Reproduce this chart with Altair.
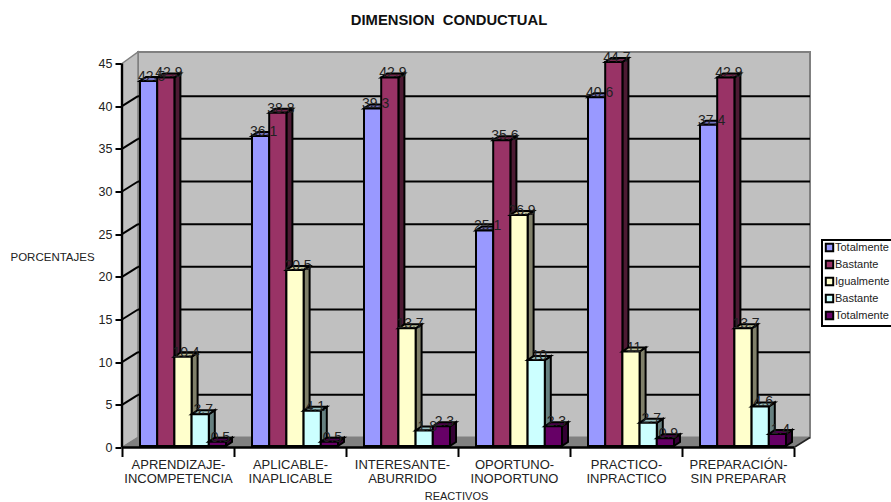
import altair as alt
import pandas as pd

# Survey percentages per item and response option
categories = [
    "APRENDIZAJE-|INCOMPETENCIA",
    "APLICABLE-|INAPLICABLE",
    "INTERESANTE-|ABURRIDO",
    "OPORTUNO-|INOPORTUNO",
    "PRACTICO-|INPRACTICO",
    "PREPARACIÓN-|SIN PREPARAR",
]
series_names = ["Totalmente", "Bastante", "Igualmente", "Bastante", "Totalmente"]
series_values = [
    [42.5, 36.1, 39.3, 25.1, 40.6, 37.4],
    [42.9, 38.8, 42.9, 35.6, 44.7, 42.9],
    [10.4, 20.5, 13.7, 26.9, 11.0, 13.7],
    [3.7, 4.1, 1.8, 10.0, 2.7, 4.6],
    [0.5, 0.5, 2.3, 2.3, 0.9, 1.4],
]
series_labels = [
    ["42.5", "36.1", "39.3", "25.1", "40.6", "37.4"],
    ["42.9", "38.8", "42.9", "35.6", "44.7", "42.9"],
    ["10.4", "20.5", "13.7", "26.9", "11", "13.7"],
    ["3.7", "4.1", "1.8", "10", "2.7", "4.6"],
    ["0.5", "0.5", "2.3", "2.3", "0.9", "1.4"],
]
front_colors = ["#9999FF", "#993366", "#FFFFCC", "#CCFFFF", "#660066"]
side_colors = ["#4D4D80", "#4D1A33", "#80806A", "#668080", "#330033"]
top_colors = ["#7373BF", "#73264D", "#BFBF99", "#99BFBF", "#4D004D"]
y_ticks = [0, 5, 10, 15, 20, 25, 30, 35, 40, 45]

FONT = "Liberation Sans"
INK = "#222222"

# Pixel layout of the plot frame
PLOT_W, PLOT_H = 688, 396
CAT_PX = 112.0            # width of one category on the front plane
UNIT_PX = 8.533           # axis pixels per percentage point
BAR_UNIT_PX = 8.59        # bars sit a little further back, hence a slightly larger unit
BAR_BASE_PX = 1.5         # bar foot above the lower plot edge

x_max = PLOT_W / CAT_PX
x_scale = alt.Scale(domain=[0, x_max], nice=False, zero=False)
y_frame = alt.Scale(domain=[0, PLOT_H / UNIT_PX], nice=False, zero=False)
y_bar = alt.Scale(
    domain=[-BAR_BASE_PX / BAR_UNIT_PX, (PLOT_H - BAR_BASE_PX) / BAR_UNIT_PX],
    nice=False, zero=False,
)

# Depth of the box and of each column, in data units
wall_dx = 16 / CAT_PX
wall_dy = 10 / UNIT_PX
wall_top = PLOT_H / UNIT_PX - 0.05
front_top = 45
bar_dx = 6 / CAT_PX
bar_dy = 4 / BAR_UNIT_PX
bar_gap = 18 / CAT_PX
bar_w = 17.2 / CAT_PX

n_cat = len(categories)
X = alt.X("x:Q", scale=x_scale, axis=None)
X2 = alt.X2("x2:Q")
YF = alt.Y("y:Q", scale=y_frame, axis=None)
YF2 = alt.Y2("y2:Q")
YB = alt.Y("y:Q", scale=y_bar, axis=None)
YB2 = alt.Y2("y2:Q")

# Back wall
back_wall = (
    alt.Chart(pd.DataFrame([{"x": wall_dx, "x2": n_cat + wall_dx, "y": wall_dy, "y2": wall_top}]))
    .mark_rect(fill="#C0C0C0", stroke="#808080", strokeWidth=2)
    .encode(x=X, x2=X2, y=YF, y2=YF2)
)

# Left wall
left_wall = (
    alt.Chart(pd.DataFrame([
        {"x": 0, "y": front_top, "y2": 0},
        {"x": wall_dx, "y": wall_top, "y2": wall_dy},
    ]))
    .mark_area(fill="#C0C0C0", stroke="#808080", strokeWidth=1.5)
    .encode(x=X, y=YF, y2=YF2)
)

# Floor
floor = (
    alt.Chart(pd.DataFrame([
        {"x": 0, "y": 0, "y2": 0},
        {"x": wall_dx, "y": wall_dy, "y2": 0},
        {"x": n_cat, "y": wall_dy, "y2": 0},
        {"x": n_cat + wall_dx, "y": wall_dy, "y2": wall_dy},
    ]))
    .mark_area(fill="#808080", stroke="#808080", strokeWidth=1)
    .encode(x=X, y=YF, y2=YF2)
)

# Horizontal gridlines on the back wall
grid = (
    alt.Chart(pd.DataFrame([
        {"x": wall_dx, "x2": n_cat + wall_dx, "y": t + wall_dy} for t in y_ticks[1:-1]
    ]))
    .mark_rule(color="#000000", strokeWidth=2)
    .encode(x=X, x2=X2, y=YF)
)

# Gridline continuation across the left wall
diag_rows = []
for t in y_ticks[1:-1]:
    diag_rows.append({"x": 0, "y": t, "level": t})
    diag_rows.append({"x": wall_dx, "y": t + wall_dy, "level": t})
diagonals = (
    alt.Chart(pd.DataFrame(diag_rows))
    .mark_line(color="#000000", strokeWidth=2)
    .encode(x=X, y=YF, detail="level:N")
)

# Corner edge on the right of the floor
floor_edge = (
    alt.Chart(pd.DataFrame([
        {"x": n_cat, "y": 0},
        {"x": n_cat + wall_dx, "y": wall_dy},
    ]))
    .mark_line(color="#222222", strokeWidth=1.5)
    .encode(x=X, y=YF)
)

# Axes: ticks on whole categories, labels on their centres
label_js = "[" + ",".join("'" + c + "'" for c in categories) + "]"
x_axis_values = [i / 2 for i in range(0, 2 * n_cat + 1)]
axes = (
    alt.Chart(pd.DataFrame([{"x": 0, "y": 0}]))
    .mark_point(opacity=0)
    .encode(
        x=alt.X(
            "x:Q", scale=x_scale, title="REACTIVOS",
            axis=alt.Axis(
                values=x_axis_values, domain=False, grid=False,
                tickSize=9, tickWidth=2, tickColor="#000000",
                tickOpacity=alt.condition("datum.value % 1 === 0", alt.value(1), alt.value(0)),
                labelExpr=f"datum.value % 1 ? split({label_js}[floor(datum.value)], '|') : ''",
                labelFont=FONT, labelFontSize=13, labelColor=INK, labelPadding=2,
                labelLineHeight=14, labelOverlap=False, labelBound=False, labelFlush=False,
                labelAlign="center", labelAngle=0,
                titleFont=FONT, titleFontSize=11, titleFontWeight="normal", titleColor=INK,
                titleX=334, titleY=52, titleBaseline="alphabetic",
            ),
        ),
        y=alt.Y(
            "y:Q", scale=y_frame, title="PORCENTAJES",
            axis=alt.Axis(
                values=y_ticks, domain=False, grid=False,
                tickSize=7, tickWidth=2, tickColor="#000000",
                labelFont=FONT, labelFontSize=12.5, labelColor=INK, labelPadding=3,
                titleFont=FONT, titleFontSize=11.5, titleFontWeight="normal", titleColor=INK,
                titleAngle=0, titleAlign="left", titleBaseline="alphabetic",
                titleX=-112, titleY=208.5,
            ),
        ),
    )
)

# Front corner post and base line of the box
y_axis_line = (
    alt.Chart(pd.DataFrame([{"x": 0, "y": 0, "y2": front_top}]))
    .mark_rule(color="#000000", strokeWidth=2.4)
    .encode(x=X, y=YF, y2=YF2)
)
x_axis_line = (
    alt.Chart(pd.DataFrame([{"x": 0, "x2": n_cat, "y": 0}]))
    .mark_rule(color="#000000", strokeWidth=2.4)
    .encode(x=X, x2=X2, y=YF)
)

# Columns, one response option at a time so later ones cover earlier side faces
bar_layers = []
label_rows = []
for s, values in enumerate(series_values):
    front_rows, side_rows, top_rows = [], [], []
    for c, v in enumerate(values):
        x0 = c + bar_gap + s * bar_w
        x1 = x0 + bar_w
        front_rows.append({"x": x0, "x2": x1, "y": v, "y2": 0, "series": s})
        side_rows += [
            {"x": x1, "y": v, "y2": 0, "cat": c},
            {"x": x1 + bar_dx, "y": v + bar_dy, "y2": bar_dy, "cat": c},
        ]
        top_rows += [
            {"x": x0, "y": v, "y2": v, "cat": c},
            {"x": x0 + bar_dx, "y": v + bar_dy, "y2": v, "cat": c},
            {"x": x1, "y": v + bar_dy, "y2": v, "cat": c},
            {"x": x1 + bar_dx, "y": v + bar_dy, "y2": v + bar_dy, "cat": c},
        ]
        label_rows.append({
            "x": (x0 + x1) / 2 + 3 / CAT_PX, "y": v, "label": series_labels[s][c],
        })
    bar_layers.append(
        alt.Chart(pd.DataFrame(side_rows))
        .mark_area(fill=side_colors[s], stroke="#000000", strokeWidth=2, strokeJoin="miter")
        .encode(x=X, y=YB, y2=YB2, detail="cat:N")
    )
    bar_layers.append(
        alt.Chart(pd.DataFrame(top_rows))
        .mark_area(fill=top_colors[s], stroke="#000000", strokeWidth=2, strokeJoin="miter")
        .encode(x=X, y=YB, y2=YB2, detail="cat:N")
    )
    bar_layers.append(
        alt.Chart(pd.DataFrame(front_rows))
        .mark_rect(stroke="#000000", strokeWidth=2)
        .encode(
            x=X, x2=X2, y=YB, y2=YB2,
            color=alt.Color(
                "series:N",
                scale=alt.Scale(domain=list(range(5)), range=front_colors),
                legend=alt.Legend(
                    title=None, orient="none", legendX=700, legendY=188.5,
                    symbolType="square", symbolSize=55,
                    symbolStrokeColor="#000000", symbolStrokeWidth=2,
                    labelExpr="[" + ",".join("'" + n + "'" for n in series_names) + "][datum.value]",
                    labelFont=FONT, labelFontSize=11, labelColor=INK, labelOffset=0,
                    labelLimit=80, rowPadding=0,
                    strokeColor="#000000", fillColor="#FFFFFF",
                    padding=2,
                ),
            ),
        )
    )

value_labels = (
    alt.Chart(pd.DataFrame(label_rows))
    .mark_text(font=FONT, fontSize=14, color="#222222", baseline="alphabetic", align="center")
    .encode(x=X, y=YB, text="label:N")
)

chart = (
    alt.layer(
        axes, back_wall, left_wall, floor, floor_edge, grid, diagonals,
        y_axis_line, x_axis_line, *bar_layers, value_labels,
    )
    .resolve_scale(y="independent")
    .resolve_axis(x="independent", y="independent")
    .properties(
        width=PLOT_W, height=PLOT_H,
        autosize=alt.AutoSizeParams(type="none"),
        padding={"left": 122, "top": 51.5, "right": 81, "bottom": 54.5},
        title=alt.TitleParams(
            "DIMENSION \u00a0CONDUCTUAL", font=FONT, fontSize=14.8, fontWeight="bold",
            color="#111111", anchor="middle", dx=-17, offset=9, baseline="alphabetic",
        ),
    )
    .configure_view(stroke=None)
    .configure_legend(strokeWidth=2)
)

chart.save("out.html", embed_options={"renderer": "svg", "actions": False})
